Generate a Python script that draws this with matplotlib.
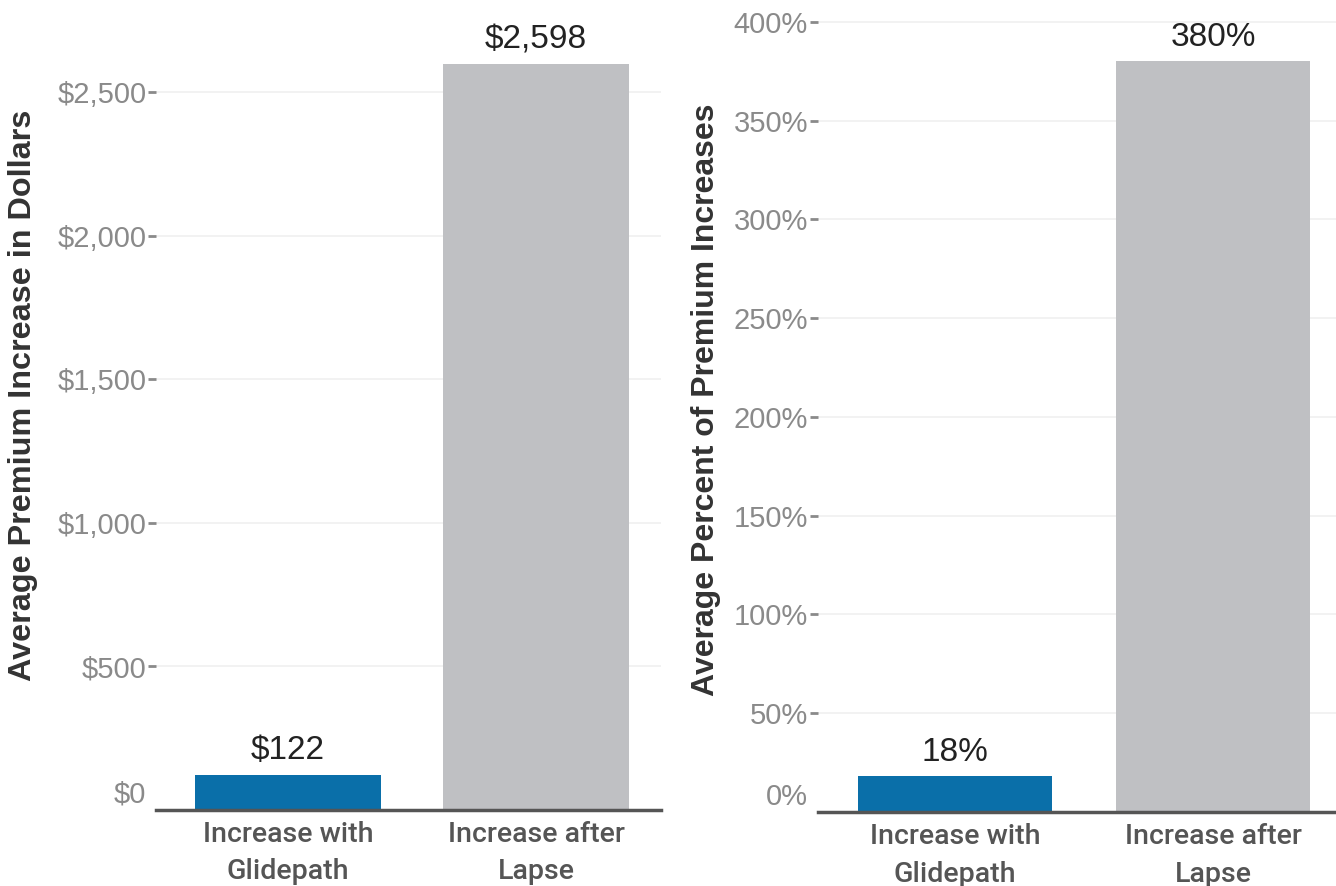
import matplotlib.pyplot as plt
import matplotlib.transforms as mtransforms
from matplotlib.ticker import FuncFormatter

categories = ["Increase with\nGlidepath", "Increase after\nLapse"]
dollar_values = [122, 2598]
dollar_labels = ["$122", "$2,598"]
percent_values = [18, 380]
percent_labels = ["18%", "380%"]
bar_colors = ["#0a6fa9", "#bfc0c3"]

dollar_ticks = [0, 500, 1000, 1500, 2000, 2500]
percent_ticks = [0, 50, 100, 150, 200, 250, 300, 350, 400]

plt.rcParams["font.family"] = ["Liberation Sans", "DejaVu Sans"]

fig = plt.figure(figsize=(13.36, 8.86), dpi=100)
ax1 = fig.add_axes([0.1168, 0.0863, 0.378, 0.900])
ax2 = fig.add_axes([0.612, 0.0835, 0.388, 0.903])


def style_axis(ax, values, labels, ticks, fmt, ylim, xlim, ylabel, ylabel_size, label_xy):
    x = range(len(categories))
    ax.bar(x, values, width=0.75, color=bar_colors, zorder=2)
    for xi, v, lab in zip(x, values, labels):
        ax.annotate(lab, (xi, v), xytext=(0, 6), textcoords="offset points",
                    ha="center", va="bottom", fontsize=24, color="#222222")
    ax.set_ylim(*ylim)
    ax.set_xlim(*xlim)
    ax.set_yticks(ticks)
    ax.yaxis.set_major_formatter(FuncFormatter(fmt))
    ax.set_xticks(list(x))
    ax.set_xticklabels(categories, family=["Roboto", "DejaVu Sans"],
                       fontsize=20.5, color="#555555", fontweight="medium", linespacing=1.5)
    ax.tick_params(axis="x", length=0, pad=8)
    ax.tick_params(axis="y", length=6, width=2, color="#8a8a8a", pad=1,
                   labelsize=21, labelcolor="#8a8a8a")
    ax.grid(axis="y", color="#f0f0f0", linewidth=1.2, zorder=0)
    for side in ["top", "right", "left"]:
        ax.spines[side].set_visible(False)
    ax.spines["bottom"].set_color("#555555")
    ax.spines["bottom"].set_linewidth(2.5)
    ax.spines["bottom"].set_zorder(3)
    ax.set_ylabel(ylabel, fontsize=ylabel_size, color="#333333", fontweight="bold")
    ax.yaxis.set_label_coords(*label_xy)
    # zero label sits above the baseline with no tick mark
    zero_tick = ax.yaxis.get_major_ticks()[0]
    zero_tick.tick1line.set_visible(False)
    shift = mtransforms.ScaledTranslation(0, 0.18, fig.dpi_scale_trans)
    zero_tick.label1.set_transform(zero_tick.label1.get_transform() + shift)


style_axis(ax1, dollar_values, dollar_labels, dollar_ticks,
           lambda v, p: "${:,.0f}".format(v), (0, 2779), (-0.532, 1.504),
           "Average Premium Increase in Dollars", 23.3, (-0.234, 0.52))
style_axis(ax2, percent_values, percent_labels, percent_ticks,
           lambda v, p: "{:.0f}%".format(v), (0, 405), (-0.531, 1.475),
           "Average Percent of Premium Increases", 23, (-0.187, 0.515))

fig.savefig("out.png", dpi=100)
